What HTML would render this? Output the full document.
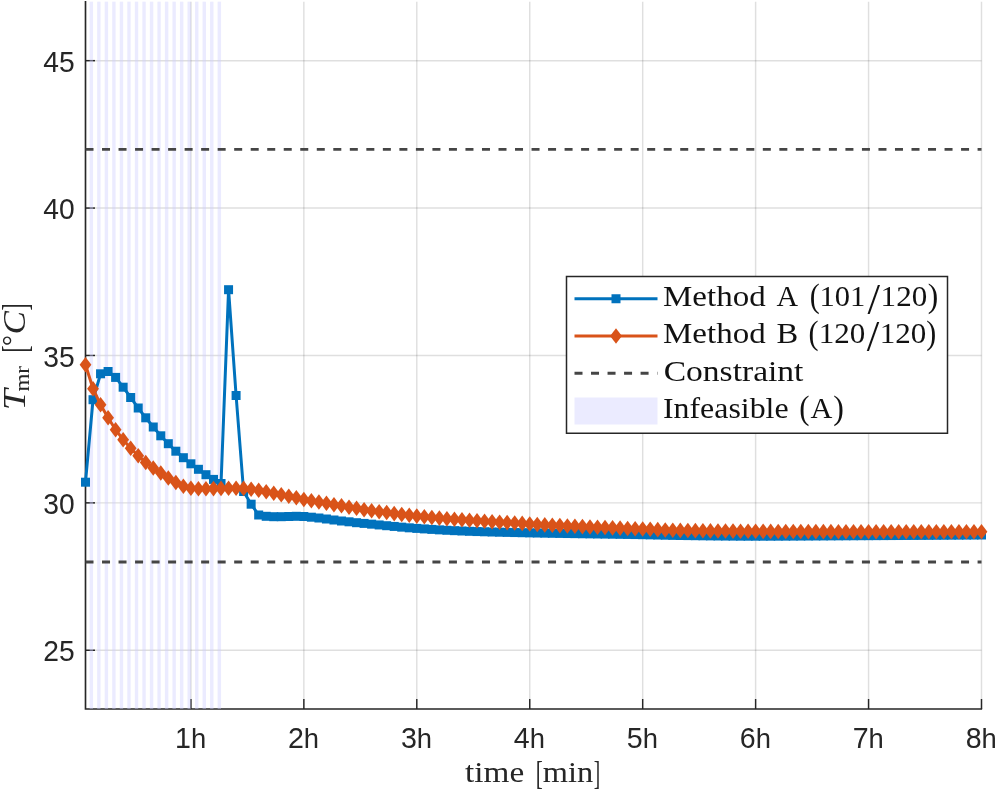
<!DOCTYPE html>
<html lang="en"><head><meta charset="utf-8"><title>T_mr plot</title>
<style>html,body{margin:0;padding:0;background:#fff}svg{display:block;will-change:transform}</style></head>
<body>
<svg width="996" height="792" viewBox="0 0 996 792">
<rect width="996" height="792" fill="#fff"/>
<g stroke="#262626" stroke-opacity="0.15" stroke-width="1.45" fill="none">
<line x1="190.91" y1="1.70" x2="190.91" y2="709.22"/>
<line x1="303.85" y1="1.70" x2="303.85" y2="709.22"/>
<line x1="416.79" y1="1.70" x2="416.79" y2="709.22"/>
<line x1="529.74" y1="1.70" x2="529.74" y2="709.22"/>
<line x1="642.68" y1="1.70" x2="642.68" y2="709.22"/>
<line x1="755.62" y1="1.70" x2="755.62" y2="709.22"/>
<line x1="868.56" y1="1.70" x2="868.56" y2="709.22"/>
<line x1="981.50" y1="1.70" x2="981.50" y2="709.22"/>
<line x1="85.50" y1="650.26" x2="981.50" y2="650.26"/>
<line x1="85.50" y1="502.86" x2="981.50" y2="502.86"/>
<line x1="85.50" y1="355.46" x2="981.50" y2="355.46"/>
<line x1="85.50" y1="208.06" x2="981.50" y2="208.06"/>
<line x1="85.50" y1="60.66" x2="981.50" y2="60.66"/>
</g>
<g stroke="#262626" stroke-width="1.45" fill="none">
<path d="M85.50 1.0V709.00H982.10" stroke-width="1.65"/>
<line x1="190.91" y1="709.00" x2="190.91" y2="699.00"/>
<line x1="303.85" y1="709.00" x2="303.85" y2="699.00"/>
<line x1="416.79" y1="709.00" x2="416.79" y2="699.00"/>
<line x1="529.74" y1="709.00" x2="529.74" y2="699.00"/>
<line x1="642.68" y1="709.00" x2="642.68" y2="699.00"/>
<line x1="755.62" y1="709.00" x2="755.62" y2="699.00"/>
<line x1="868.56" y1="709.00" x2="868.56" y2="699.00"/>
<line x1="981.50" y1="709.00" x2="981.50" y2="699.00"/>
<line x1="85.50" y1="650.26" x2="95.00" y2="650.26"/>
<line x1="85.50" y1="502.86" x2="95.00" y2="502.86"/>
<line x1="85.50" y1="355.46" x2="95.00" y2="355.46"/>
<line x1="85.50" y1="208.06" x2="95.00" y2="208.06"/>
<line x1="85.50" y1="60.66" x2="95.00" y2="60.66"/>
</g>
<g fill="#CCCCFF" fill-opacity="0.4">
<rect x="89.63" y="1.70" width="3.40" height="707.30"/>
<rect x="97.16" y="1.70" width="3.40" height="707.30"/>
<rect x="104.69" y="1.70" width="3.40" height="707.30"/>
<rect x="112.22" y="1.70" width="3.40" height="707.30"/>
<rect x="119.75" y="1.70" width="3.40" height="707.30"/>
<rect x="127.28" y="1.70" width="3.40" height="707.30"/>
<rect x="134.81" y="1.70" width="3.40" height="707.30"/>
<rect x="142.34" y="1.70" width="3.40" height="707.30"/>
<rect x="149.86" y="1.70" width="3.40" height="707.30"/>
<rect x="157.39" y="1.70" width="3.40" height="707.30"/>
<rect x="164.92" y="1.70" width="3.40" height="707.30"/>
<rect x="172.45" y="1.70" width="3.40" height="707.30"/>
<rect x="179.98" y="1.70" width="3.40" height="707.30"/>
<rect x="187.51" y="1.70" width="3.40" height="707.30"/>
<rect x="195.04" y="1.70" width="3.40" height="707.30"/>
<rect x="202.57" y="1.70" width="3.40" height="707.30"/>
<rect x="210.10" y="1.70" width="3.40" height="707.30"/>
<rect x="217.63" y="1.70" width="3.40" height="707.30"/>
</g>
<g stroke="#454545" stroke-width="2.8" stroke-dasharray="8 8.52" fill="none">
<line x1="85.50" y1="149.30" x2="981.50" y2="149.30"/>
<line x1="85.50" y1="562.02" x2="981.50" y2="562.02"/>
</g>
<polyline points="85.50,482.20 93.03,399.70 100.56,373.80 108.09,371.50 115.62,377.40 123.15,387.20 130.68,397.50 138.21,408.00 145.74,417.80 153.26,427.00 160.79,435.80 168.32,443.70 175.85,451.20 183.38,457.70 190.91,463.80 198.44,469.30 205.97,474.70 213.50,479.40 221.03,483.50 228.56,289.70 236.09,395.50 243.62,491.50 251.15,504.20 258.68,515.00 266.21,516.30 273.74,516.70 281.26,516.70 288.79,516.50 296.32,516.30 303.85,516.50 311.38,517.20 318.91,518.00 326.44,519.00 333.97,520.00 341.50,521.00 349.03,521.80 356.56,522.70 364.09,523.40 371.62,524.16 379.15,524.94 386.68,525.71 394.21,526.43 401.74,527.15 409.26,527.82 416.79,528.40 424.32,528.91 431.85,529.40 439.38,529.86 446.91,530.28 454.44,530.66 461.97,531.00 469.50,531.30 477.03,531.56 484.56,531.79 492.09,532.01 499.62,532.21 507.15,532.39 514.68,532.56 522.21,532.72 529.74,532.88 537.26,533.02 544.79,533.16 552.32,533.29 559.85,533.41 567.38,533.53 574.91,533.64 582.44,533.75 589.97,533.86 597.50,533.97 605.03,534.08 612.56,534.19 620.09,534.31 627.62,534.43 635.15,534.56 642.68,534.70 650.21,534.86 657.74,535.03 665.26,535.21 672.79,535.37 680.32,535.50 687.85,535.60 695.38,535.70 702.91,535.80 710.44,535.89 717.97,535.98 725.50,536.05 733.03,536.11 740.56,536.16 748.09,536.19 755.62,536.20 763.15,536.20 770.68,536.18 778.21,536.16 785.74,536.13 793.26,536.10 800.79,536.06 808.32,536.01 815.85,535.97 823.38,535.93 830.91,535.88 838.44,535.84 845.97,535.80 853.50,535.76 861.03,535.72 868.56,535.68 876.09,535.64 883.62,535.60 891.15,535.56 898.68,535.52 906.21,535.47 913.74,535.43 921.26,535.39 928.79,535.34 936.32,535.29 943.85,535.25 951.38,535.20 958.91,535.15 966.44,535.10 973.97,535.05 981.50,535.00" fill="none" stroke="#0072BD" stroke-width="3" stroke-linejoin="round"/>
<g fill="#0072BD">
<rect x="81.00" y="477.70" width="9.0" height="9.0"/>
<rect x="88.53" y="395.20" width="9.0" height="9.0"/>
<rect x="96.06" y="369.30" width="9.0" height="9.0"/>
<rect x="103.59" y="367.00" width="9.0" height="9.0"/>
<rect x="111.12" y="372.90" width="9.0" height="9.0"/>
<rect x="118.65" y="382.70" width="9.0" height="9.0"/>
<rect x="126.18" y="393.00" width="9.0" height="9.0"/>
<rect x="133.71" y="403.50" width="9.0" height="9.0"/>
<rect x="141.24" y="413.30" width="9.0" height="9.0"/>
<rect x="148.76" y="422.50" width="9.0" height="9.0"/>
<rect x="156.29" y="431.30" width="9.0" height="9.0"/>
<rect x="163.82" y="439.20" width="9.0" height="9.0"/>
<rect x="171.35" y="446.70" width="9.0" height="9.0"/>
<rect x="178.88" y="453.20" width="9.0" height="9.0"/>
<rect x="186.41" y="459.30" width="9.0" height="9.0"/>
<rect x="193.94" y="464.80" width="9.0" height="9.0"/>
<rect x="201.47" y="470.20" width="9.0" height="9.0"/>
<rect x="209.00" y="474.90" width="9.0" height="9.0"/>
<rect x="216.53" y="479.00" width="9.0" height="9.0"/>
<rect x="224.06" y="285.20" width="9.0" height="9.0"/>
<rect x="231.59" y="391.00" width="9.0" height="9.0"/>
<rect x="239.12" y="487.00" width="9.0" height="9.0"/>
<rect x="246.65" y="499.70" width="9.0" height="9.0"/>
<rect x="254.18" y="510.50" width="9.0" height="9.0"/>
<rect x="261.71" y="511.80" width="9.0" height="9.0"/>
<rect x="269.24" y="512.20" width="9.0" height="9.0"/>
<rect x="276.76" y="512.20" width="9.0" height="9.0"/>
<rect x="284.29" y="512.00" width="9.0" height="9.0"/>
<rect x="291.82" y="511.80" width="9.0" height="9.0"/>
<rect x="299.35" y="512.00" width="9.0" height="9.0"/>
<rect x="306.88" y="512.70" width="9.0" height="9.0"/>
<rect x="314.41" y="513.50" width="9.0" height="9.0"/>
<rect x="321.94" y="514.50" width="9.0" height="9.0"/>
<rect x="329.47" y="515.50" width="9.0" height="9.0"/>
<rect x="337.00" y="516.50" width="9.0" height="9.0"/>
<rect x="344.53" y="517.30" width="9.0" height="9.0"/>
<rect x="352.06" y="518.20" width="9.0" height="9.0"/>
<rect x="359.59" y="518.90" width="9.0" height="9.0"/>
<rect x="367.12" y="519.66" width="9.0" height="9.0"/>
<rect x="374.65" y="520.44" width="9.0" height="9.0"/>
<rect x="382.18" y="521.21" width="9.0" height="9.0"/>
<rect x="389.71" y="521.93" width="9.0" height="9.0"/>
<rect x="397.24" y="522.65" width="9.0" height="9.0"/>
<rect x="404.76" y="523.32" width="9.0" height="9.0"/>
<rect x="412.29" y="523.90" width="9.0" height="9.0"/>
<rect x="419.82" y="524.41" width="9.0" height="9.0"/>
<rect x="427.35" y="524.90" width="9.0" height="9.0"/>
<rect x="434.88" y="525.36" width="9.0" height="9.0"/>
<rect x="442.41" y="525.78" width="9.0" height="9.0"/>
<rect x="449.94" y="526.16" width="9.0" height="9.0"/>
<rect x="457.47" y="526.50" width="9.0" height="9.0"/>
<rect x="465.00" y="526.80" width="9.0" height="9.0"/>
<rect x="472.53" y="527.06" width="9.0" height="9.0"/>
<rect x="480.06" y="527.29" width="9.0" height="9.0"/>
<rect x="487.59" y="527.51" width="9.0" height="9.0"/>
<rect x="495.12" y="527.71" width="9.0" height="9.0"/>
<rect x="502.65" y="527.89" width="9.0" height="9.0"/>
<rect x="510.18" y="528.06" width="9.0" height="9.0"/>
<rect x="517.71" y="528.22" width="9.0" height="9.0"/>
<rect x="525.24" y="528.38" width="9.0" height="9.0"/>
<rect x="532.76" y="528.52" width="9.0" height="9.0"/>
<rect x="540.29" y="528.66" width="9.0" height="9.0"/>
<rect x="547.82" y="528.79" width="9.0" height="9.0"/>
<rect x="555.35" y="528.91" width="9.0" height="9.0"/>
<rect x="562.88" y="529.03" width="9.0" height="9.0"/>
<rect x="570.41" y="529.14" width="9.0" height="9.0"/>
<rect x="577.94" y="529.25" width="9.0" height="9.0"/>
<rect x="585.47" y="529.36" width="9.0" height="9.0"/>
<rect x="593.00" y="529.47" width="9.0" height="9.0"/>
<rect x="600.53" y="529.58" width="9.0" height="9.0"/>
<rect x="608.06" y="529.69" width="9.0" height="9.0"/>
<rect x="615.59" y="529.81" width="9.0" height="9.0"/>
<rect x="623.12" y="529.93" width="9.0" height="9.0"/>
<rect x="630.65" y="530.06" width="9.0" height="9.0"/>
<rect x="638.18" y="530.20" width="9.0" height="9.0"/>
<rect x="645.71" y="530.36" width="9.0" height="9.0"/>
<rect x="653.24" y="530.53" width="9.0" height="9.0"/>
<rect x="660.76" y="530.71" width="9.0" height="9.0"/>
<rect x="668.29" y="530.87" width="9.0" height="9.0"/>
<rect x="675.82" y="531.00" width="9.0" height="9.0"/>
<rect x="683.35" y="531.10" width="9.0" height="9.0"/>
<rect x="690.88" y="531.20" width="9.0" height="9.0"/>
<rect x="698.41" y="531.30" width="9.0" height="9.0"/>
<rect x="705.94" y="531.39" width="9.0" height="9.0"/>
<rect x="713.47" y="531.48" width="9.0" height="9.0"/>
<rect x="721.00" y="531.55" width="9.0" height="9.0"/>
<rect x="728.53" y="531.61" width="9.0" height="9.0"/>
<rect x="736.06" y="531.66" width="9.0" height="9.0"/>
<rect x="743.59" y="531.69" width="9.0" height="9.0"/>
<rect x="751.12" y="531.70" width="9.0" height="9.0"/>
<rect x="758.65" y="531.70" width="9.0" height="9.0"/>
<rect x="766.18" y="531.68" width="9.0" height="9.0"/>
<rect x="773.71" y="531.66" width="9.0" height="9.0"/>
<rect x="781.24" y="531.63" width="9.0" height="9.0"/>
<rect x="788.76" y="531.60" width="9.0" height="9.0"/>
<rect x="796.29" y="531.56" width="9.0" height="9.0"/>
<rect x="803.82" y="531.51" width="9.0" height="9.0"/>
<rect x="811.35" y="531.47" width="9.0" height="9.0"/>
<rect x="818.88" y="531.43" width="9.0" height="9.0"/>
<rect x="826.41" y="531.38" width="9.0" height="9.0"/>
<rect x="833.94" y="531.34" width="9.0" height="9.0"/>
<rect x="841.47" y="531.30" width="9.0" height="9.0"/>
<rect x="849.00" y="531.26" width="9.0" height="9.0"/>
<rect x="856.53" y="531.22" width="9.0" height="9.0"/>
<rect x="864.06" y="531.18" width="9.0" height="9.0"/>
<rect x="871.59" y="531.14" width="9.0" height="9.0"/>
<rect x="879.12" y="531.10" width="9.0" height="9.0"/>
<rect x="886.65" y="531.06" width="9.0" height="9.0"/>
<rect x="894.18" y="531.02" width="9.0" height="9.0"/>
<rect x="901.71" y="530.97" width="9.0" height="9.0"/>
<rect x="909.24" y="530.93" width="9.0" height="9.0"/>
<rect x="916.76" y="530.89" width="9.0" height="9.0"/>
<rect x="924.29" y="530.84" width="9.0" height="9.0"/>
<rect x="931.82" y="530.79" width="9.0" height="9.0"/>
<rect x="939.35" y="530.75" width="9.0" height="9.0"/>
<rect x="946.88" y="530.70" width="9.0" height="9.0"/>
<rect x="954.41" y="530.65" width="9.0" height="9.0"/>
<rect x="961.94" y="530.60" width="9.0" height="9.0"/>
<rect x="969.47" y="530.55" width="9.0" height="9.0"/>
<rect x="977.00" y="530.50" width="9.0" height="9.0"/>
</g>
<polyline points="85.50,364.70 93.03,388.70 100.56,404.70 108.09,417.70 115.62,429.70 123.15,439.70 130.68,448.30 138.21,455.80 145.74,462.50 153.26,468.00 160.79,473.00 168.32,478.00 175.85,482.50 183.38,486.20 190.91,488.30 198.44,488.70 205.97,488.70 213.50,488.60 221.03,488.40 228.56,488.30 236.09,488.30 243.62,488.40 251.15,489.20 258.68,490.30 266.21,491.70 273.74,493.30 281.26,494.70 288.79,496.20 296.32,497.80 303.85,499.50 311.38,500.80 318.91,502.00 326.44,503.30 333.97,504.70 341.50,505.80 349.03,507.20 356.56,508.30 364.09,509.80 371.62,510.80 379.15,511.70 386.68,512.50 394.21,513.60 401.74,514.50 409.26,515.30 416.79,516.10 424.32,516.80 431.85,517.50 439.38,518.10 446.91,518.70 454.44,519.20 461.97,519.70 469.50,520.20 477.03,520.70 484.56,521.20 492.09,521.70 499.62,522.20 507.15,522.60 514.68,523.00 522.21,523.40 529.74,524.00 537.26,524.46 544.79,524.88 552.32,525.26 559.85,525.62 567.38,525.96 574.91,526.28 582.44,526.60 589.97,526.93 597.50,527.25 605.03,527.55 612.56,527.85 620.09,528.14 627.62,528.43 635.15,528.71 642.68,529.00 650.21,529.31 657.74,529.63 665.26,529.94 672.79,530.21 680.32,530.40 687.85,530.54 695.38,530.66 702.91,530.78 710.44,530.88 717.97,530.97 725.50,531.05 733.03,531.12 740.56,531.19 748.09,531.25 755.62,531.30 763.15,531.35 770.68,531.40 778.21,531.44 785.74,531.48 793.26,531.52 800.79,531.56 808.32,531.59 815.85,531.62 823.38,531.65 830.91,531.67 838.44,531.69 845.97,531.70 853.50,531.71 861.03,531.72 868.56,531.73 876.09,531.74 883.62,531.74 891.15,531.75 898.68,531.76 906.21,531.77 913.74,531.77 921.26,531.78 928.79,531.78 936.32,531.79 943.85,531.79 951.38,531.79 958.91,531.80 966.44,531.80 973.97,531.80 981.50,531.80" fill="none" stroke="#D95319" stroke-width="3" stroke-linejoin="round"/>
<g fill="#D95319">
<path d="M85.50 356.90L91.40 364.70L85.50 372.50L79.60 364.70Z"/>
<path d="M93.03 380.90L98.93 388.70L93.03 396.50L87.13 388.70Z"/>
<path d="M100.56 396.90L106.46 404.70L100.56 412.50L94.66 404.70Z"/>
<path d="M108.09 409.90L113.99 417.70L108.09 425.50L102.19 417.70Z"/>
<path d="M115.62 421.90L121.52 429.70L115.62 437.50L109.72 429.70Z"/>
<path d="M123.15 431.90L129.05 439.70L123.15 447.50L117.25 439.70Z"/>
<path d="M130.68 440.50L136.58 448.30L130.68 456.10L124.78 448.30Z"/>
<path d="M138.21 448.00L144.11 455.80L138.21 463.60L132.31 455.80Z"/>
<path d="M145.74 454.70L151.64 462.50L145.74 470.30L139.84 462.50Z"/>
<path d="M153.26 460.20L159.16 468.00L153.26 475.80L147.36 468.00Z"/>
<path d="M160.79 465.20L166.69 473.00L160.79 480.80L154.89 473.00Z"/>
<path d="M168.32 470.20L174.22 478.00L168.32 485.80L162.42 478.00Z"/>
<path d="M175.85 474.70L181.75 482.50L175.85 490.30L169.95 482.50Z"/>
<path d="M183.38 478.40L189.28 486.20L183.38 494.00L177.48 486.20Z"/>
<path d="M190.91 480.50L196.81 488.30L190.91 496.10L185.01 488.30Z"/>
<path d="M198.44 480.90L204.34 488.70L198.44 496.50L192.54 488.70Z"/>
<path d="M205.97 480.90L211.87 488.70L205.97 496.50L200.07 488.70Z"/>
<path d="M213.50 480.80L219.40 488.60L213.50 496.40L207.60 488.60Z"/>
<path d="M221.03 480.60L226.93 488.40L221.03 496.20L215.13 488.40Z"/>
<path d="M228.56 480.50L234.46 488.30L228.56 496.10L222.66 488.30Z"/>
<path d="M236.09 480.50L241.99 488.30L236.09 496.10L230.19 488.30Z"/>
<path d="M243.62 480.60L249.52 488.40L243.62 496.20L237.72 488.40Z"/>
<path d="M251.15 481.40L257.05 489.20L251.15 497.00L245.25 489.20Z"/>
<path d="M258.68 482.50L264.58 490.30L258.68 498.10L252.78 490.30Z"/>
<path d="M266.21 483.90L272.11 491.70L266.21 499.50L260.31 491.70Z"/>
<path d="M273.74 485.50L279.64 493.30L273.74 501.10L267.84 493.30Z"/>
<path d="M281.26 486.90L287.16 494.70L281.26 502.50L275.36 494.70Z"/>
<path d="M288.79 488.40L294.69 496.20L288.79 504.00L282.89 496.20Z"/>
<path d="M296.32 490.00L302.22 497.80L296.32 505.60L290.42 497.80Z"/>
<path d="M303.85 491.70L309.75 499.50L303.85 507.30L297.95 499.50Z"/>
<path d="M311.38 493.00L317.28 500.80L311.38 508.60L305.48 500.80Z"/>
<path d="M318.91 494.20L324.81 502.00L318.91 509.80L313.01 502.00Z"/>
<path d="M326.44 495.50L332.34 503.30L326.44 511.10L320.54 503.30Z"/>
<path d="M333.97 496.90L339.87 504.70L333.97 512.50L328.07 504.70Z"/>
<path d="M341.50 498.00L347.40 505.80L341.50 513.60L335.60 505.80Z"/>
<path d="M349.03 499.40L354.93 507.20L349.03 515.00L343.13 507.20Z"/>
<path d="M356.56 500.50L362.46 508.30L356.56 516.10L350.66 508.30Z"/>
<path d="M364.09 502.00L369.99 509.80L364.09 517.60L358.19 509.80Z"/>
<path d="M371.62 503.00L377.52 510.80L371.62 518.60L365.72 510.80Z"/>
<path d="M379.15 503.90L385.05 511.70L379.15 519.50L373.25 511.70Z"/>
<path d="M386.68 504.70L392.58 512.50L386.68 520.30L380.78 512.50Z"/>
<path d="M394.21 505.80L400.11 513.60L394.21 521.40L388.31 513.60Z"/>
<path d="M401.74 506.70L407.64 514.50L401.74 522.30L395.84 514.50Z"/>
<path d="M409.26 507.50L415.16 515.30L409.26 523.10L403.36 515.30Z"/>
<path d="M416.79 508.30L422.69 516.10L416.79 523.90L410.89 516.10Z"/>
<path d="M424.32 509.00L430.22 516.80L424.32 524.60L418.42 516.80Z"/>
<path d="M431.85 509.70L437.75 517.50L431.85 525.30L425.95 517.50Z"/>
<path d="M439.38 510.30L445.28 518.10L439.38 525.90L433.48 518.10Z"/>
<path d="M446.91 510.90L452.81 518.70L446.91 526.50L441.01 518.70Z"/>
<path d="M454.44 511.40L460.34 519.20L454.44 527.00L448.54 519.20Z"/>
<path d="M461.97 511.90L467.87 519.70L461.97 527.50L456.07 519.70Z"/>
<path d="M469.50 512.40L475.40 520.20L469.50 528.00L463.60 520.20Z"/>
<path d="M477.03 512.90L482.93 520.70L477.03 528.50L471.13 520.70Z"/>
<path d="M484.56 513.40L490.46 521.20L484.56 529.00L478.66 521.20Z"/>
<path d="M492.09 513.90L497.99 521.70L492.09 529.50L486.19 521.70Z"/>
<path d="M499.62 514.40L505.52 522.20L499.62 530.00L493.72 522.20Z"/>
<path d="M507.15 514.80L513.05 522.60L507.15 530.40L501.25 522.60Z"/>
<path d="M514.68 515.20L520.58 523.00L514.68 530.80L508.78 523.00Z"/>
<path d="M522.21 515.60L528.11 523.40L522.21 531.20L516.31 523.40Z"/>
<path d="M529.74 516.20L535.64 524.00L529.74 531.80L523.84 524.00Z"/>
<path d="M537.26 516.66L543.16 524.46L537.26 532.26L531.36 524.46Z"/>
<path d="M544.79 517.08L550.69 524.88L544.79 532.68L538.89 524.88Z"/>
<path d="M552.32 517.46L558.22 525.26L552.32 533.06L546.42 525.26Z"/>
<path d="M559.85 517.82L565.75 525.62L559.85 533.42L553.95 525.62Z"/>
<path d="M567.38 518.16L573.28 525.96L567.38 533.76L561.48 525.96Z"/>
<path d="M574.91 518.48L580.81 526.28L574.91 534.08L569.01 526.28Z"/>
<path d="M582.44 518.80L588.34 526.60L582.44 534.40L576.54 526.60Z"/>
<path d="M589.97 519.13L595.87 526.93L589.97 534.73L584.07 526.93Z"/>
<path d="M597.50 519.45L603.40 527.25L597.50 535.05L591.60 527.25Z"/>
<path d="M605.03 519.75L610.93 527.55L605.03 535.35L599.13 527.55Z"/>
<path d="M612.56 520.05L618.46 527.85L612.56 535.65L606.66 527.85Z"/>
<path d="M620.09 520.34L625.99 528.14L620.09 535.94L614.19 528.14Z"/>
<path d="M627.62 520.63L633.52 528.43L627.62 536.23L621.72 528.43Z"/>
<path d="M635.15 520.91L641.05 528.71L635.15 536.51L629.25 528.71Z"/>
<path d="M642.68 521.20L648.58 529.00L642.68 536.80L636.78 529.00Z"/>
<path d="M650.21 521.51L656.11 529.31L650.21 537.11L644.31 529.31Z"/>
<path d="M657.74 521.83L663.64 529.63L657.74 537.43L651.84 529.63Z"/>
<path d="M665.26 522.14L671.16 529.94L665.26 537.74L659.36 529.94Z"/>
<path d="M672.79 522.41L678.69 530.21L672.79 538.01L666.89 530.21Z"/>
<path d="M680.32 522.60L686.22 530.40L680.32 538.20L674.42 530.40Z"/>
<path d="M687.85 522.74L693.75 530.54L687.85 538.34L681.95 530.54Z"/>
<path d="M695.38 522.86L701.28 530.66L695.38 538.46L689.48 530.66Z"/>
<path d="M702.91 522.98L708.81 530.78L702.91 538.58L697.01 530.78Z"/>
<path d="M710.44 523.08L716.34 530.88L710.44 538.68L704.54 530.88Z"/>
<path d="M717.97 523.17L723.87 530.97L717.97 538.77L712.07 530.97Z"/>
<path d="M725.50 523.25L731.40 531.05L725.50 538.85L719.60 531.05Z"/>
<path d="M733.03 523.32L738.93 531.12L733.03 538.92L727.13 531.12Z"/>
<path d="M740.56 523.39L746.46 531.19L740.56 538.99L734.66 531.19Z"/>
<path d="M748.09 523.45L753.99 531.25L748.09 539.05L742.19 531.25Z"/>
<path d="M755.62 523.50L761.52 531.30L755.62 539.10L749.72 531.30Z"/>
<path d="M763.15 523.55L769.05 531.35L763.15 539.15L757.25 531.35Z"/>
<path d="M770.68 523.60L776.58 531.40L770.68 539.20L764.78 531.40Z"/>
<path d="M778.21 523.64L784.11 531.44L778.21 539.24L772.31 531.44Z"/>
<path d="M785.74 523.68L791.64 531.48L785.74 539.28L779.84 531.48Z"/>
<path d="M793.26 523.72L799.16 531.52L793.26 539.32L787.36 531.52Z"/>
<path d="M800.79 523.76L806.69 531.56L800.79 539.36L794.89 531.56Z"/>
<path d="M808.32 523.79L814.22 531.59L808.32 539.39L802.42 531.59Z"/>
<path d="M815.85 523.82L821.75 531.62L815.85 539.42L809.95 531.62Z"/>
<path d="M823.38 523.85L829.28 531.65L823.38 539.45L817.48 531.65Z"/>
<path d="M830.91 523.87L836.81 531.67L830.91 539.47L825.01 531.67Z"/>
<path d="M838.44 523.89L844.34 531.69L838.44 539.49L832.54 531.69Z"/>
<path d="M845.97 523.90L851.87 531.70L845.97 539.50L840.07 531.70Z"/>
<path d="M853.50 523.91L859.40 531.71L853.50 539.51L847.60 531.71Z"/>
<path d="M861.03 523.92L866.93 531.72L861.03 539.52L855.13 531.72Z"/>
<path d="M868.56 523.93L874.46 531.73L868.56 539.53L862.66 531.73Z"/>
<path d="M876.09 523.94L881.99 531.74L876.09 539.54L870.19 531.74Z"/>
<path d="M883.62 523.94L889.52 531.74L883.62 539.54L877.72 531.74Z"/>
<path d="M891.15 523.95L897.05 531.75L891.15 539.55L885.25 531.75Z"/>
<path d="M898.68 523.96L904.58 531.76L898.68 539.56L892.78 531.76Z"/>
<path d="M906.21 523.97L912.11 531.77L906.21 539.57L900.31 531.77Z"/>
<path d="M913.74 523.97L919.64 531.77L913.74 539.57L907.84 531.77Z"/>
<path d="M921.26 523.98L927.16 531.78L921.26 539.58L915.36 531.78Z"/>
<path d="M928.79 523.98L934.69 531.78L928.79 539.58L922.89 531.78Z"/>
<path d="M936.32 523.99L942.22 531.79L936.32 539.59L930.42 531.79Z"/>
<path d="M943.85 523.99L949.75 531.79L943.85 539.59L937.95 531.79Z"/>
<path d="M951.38 523.99L957.28 531.79L951.38 539.59L945.48 531.79Z"/>
<path d="M958.91 524.00L964.81 531.80L958.91 539.60L953.01 531.80Z"/>
<path d="M966.44 524.00L972.34 531.80L966.44 539.60L960.54 531.80Z"/>
<path d="M973.97 524.00L979.87 531.80L973.97 539.60L968.07 531.80Z"/>
<path d="M981.50 524.00L987.40 531.80L981.50 539.60L975.60 531.80Z"/>
</g>
<g font-family="'Liberation Sans', Arial, sans-serif" font-size="28" fill="#262626">
<text x="43.2" y="661.46" font-size="29.2" textLength="31.4" lengthAdjust="spacingAndGlyphs">25</text>
<text x="43.2" y="514.06" font-size="29.2" textLength="31.4" lengthAdjust="spacingAndGlyphs">30</text>
<text x="43.2" y="366.66" font-size="29.2" textLength="31.4" lengthAdjust="spacingAndGlyphs">35</text>
<text x="43.2" y="219.26" font-size="29.2" textLength="31.4" lengthAdjust="spacingAndGlyphs">40</text>
<text x="43.2" y="71.86" font-size="29.2" textLength="31.4" lengthAdjust="spacingAndGlyphs">45</text>
<text x="175.04" y="747.8" textLength="31.14" lengthAdjust="spacingAndGlyphs"><tspan font-size="29.2">1</tspan>h</text>
<text x="287.98" y="747.8" textLength="31.14" lengthAdjust="spacingAndGlyphs"><tspan font-size="29.2">2</tspan>h</text>
<text x="400.92" y="747.8" textLength="31.14" lengthAdjust="spacingAndGlyphs"><tspan font-size="29.2">3</tspan>h</text>
<text x="513.87" y="747.8" textLength="31.14" lengthAdjust="spacingAndGlyphs"><tspan font-size="29.2">4</tspan>h</text>
<text x="626.81" y="747.8" textLength="31.14" lengthAdjust="spacingAndGlyphs"><tspan font-size="29.2">5</tspan>h</text>
<text x="739.75" y="747.8" textLength="31.14" lengthAdjust="spacingAndGlyphs"><tspan font-size="29.2">6</tspan>h</text>
<text x="852.69" y="747.8" textLength="31.14" lengthAdjust="spacingAndGlyphs"><tspan font-size="29.2">7</tspan>h</text>
<text x="965.63" y="747.8" textLength="31.14" lengthAdjust="spacingAndGlyphs"><tspan font-size="29.2">8</tspan>h</text>
</g>
<g transform="translate(24.8 409) rotate(-90)" font-family="'Liberation Serif', serif" fill="#262626">
<text transform="translate(-1.2 0) scale(1.2 1)" font-size="31.5" font-style="italic">T</text>
<text x="17.4" y="4.4" font-size="21.5" textLength="25.6" lengthAdjust="spacingAndGlyphs">mr</text>
<text transform="translate(56.5 2.6) scale(0.6 1)" font-size="35">[</text>
<text x="63.0" y="-3.6" font-size="27">°</text>
<text transform="translate(74.4 0) scale(1.1 1)" font-size="32" font-style="italic">C</text>
<text transform="translate(98.6 2.6) scale(0.6 1)" font-size="35">]</text>
</g>
<rect x="566.5" y="276.5" width="381.0" height="156.75" fill="#fff" stroke="#262626" stroke-width="1.5"/>
<line x1="574.5" y1="298.75" x2="657.5" y2="298.75" stroke="#0072BD" stroke-width="3"/>
<rect x="611.5" y="294.25" width="9.0" height="9.0" fill="#0072BD"/>
<line x1="574.5" y1="336.0" x2="657.5" y2="336.0" stroke="#D95319" stroke-width="3"/>
<path d="M616.0 328.2L621.9 336.0L616.0 343.8L610.1 336.0Z" fill="#D95319"/>
<line x1="574.5" y1="373.25" x2="657.5" y2="373.25" stroke="#454545" stroke-width="3" stroke-dasharray="8 8.52"/>
<rect x="574.5" y="397.5" width="83.0" height="27" fill="#EBEBFF"/>
<g font-family="'Liberation Serif', serif" fill="#111">
<text x="663.07" y="306.00" font-size="30" textLength="102.55" lengthAdjust="spacingAndGlyphs">Method</text>
<text x="776.61" y="306.00" font-size="30" textLength="21.56" lengthAdjust="spacingAndGlyphs">A</text>
<text x="809.83" y="306.70" font-size="33.7" textLength="9.99" lengthAdjust="spacingAndGlyphs">(</text>
<text x="819.61" y="306.00" font-size="30" textLength="45.76" lengthAdjust="spacingAndGlyphs">101</text>
<text x="867.58" y="313.90" font-size="44.8" textLength="12.54" lengthAdjust="spacingAndGlyphs">/</text>
<text x="880.64" y="306.00" font-size="30" textLength="46.51" lengthAdjust="spacingAndGlyphs">120</text>
<text x="927.63" y="306.70" font-size="33.7" textLength="10.50" lengthAdjust="spacingAndGlyphs">)</text>
<text x="663.07" y="343.30" font-size="30" textLength="102.55" lengthAdjust="spacingAndGlyphs">Method</text>
<text x="776.42" y="343.30" font-size="30" textLength="21.71" lengthAdjust="spacingAndGlyphs">B</text>
<text x="808.41" y="344.00" font-size="33.7" textLength="10.06" lengthAdjust="spacingAndGlyphs">(</text>
<text x="818.82" y="343.30" font-size="30" textLength="46.50" lengthAdjust="spacingAndGlyphs">120</text>
<text x="866.68" y="351.20" font-size="44.8" textLength="12.53" lengthAdjust="spacingAndGlyphs">/</text>
<text x="879.82" y="343.30" font-size="30" textLength="46.50" lengthAdjust="spacingAndGlyphs">120</text>
<text x="926.16" y="344.00" font-size="33.7" textLength="9.99" lengthAdjust="spacingAndGlyphs">)</text>
<text x="663.70" y="380.80" font-size="30" textLength="139.76" lengthAdjust="spacingAndGlyphs">Constraint</text>
<text x="662.96" y="418.30" font-size="30" textLength="125.65" lengthAdjust="spacingAndGlyphs">Infeasible</text>
<text x="799.23" y="419.00" font-size="33.7" textLength="10.24" lengthAdjust="spacingAndGlyphs">(</text>
<text x="810.41" y="418.30" font-size="30" textLength="21.88" lengthAdjust="spacingAndGlyphs">A</text>
<text x="833.15" y="419.00" font-size="33.7" textLength="10.66" lengthAdjust="spacingAndGlyphs">)</text>
<text x="465.08" y="782.20" fill="#262626" font-size="29.5" textLength="59.06" lengthAdjust="spacingAndGlyphs">time</text>
<text x="535.83" y="783.80" fill="#262626" font-size="33.8" textLength="7.05" lengthAdjust="spacingAndGlyphs">[</text>
<text x="542.79" y="782.20" fill="#262626" font-size="29.5" textLength="50.38" lengthAdjust="spacingAndGlyphs">min</text>
<text x="593.70" y="783.80" fill="#262626" font-size="33.8" textLength="6.41" lengthAdjust="spacingAndGlyphs">]</text>
</g>
</svg>
</body></html>
